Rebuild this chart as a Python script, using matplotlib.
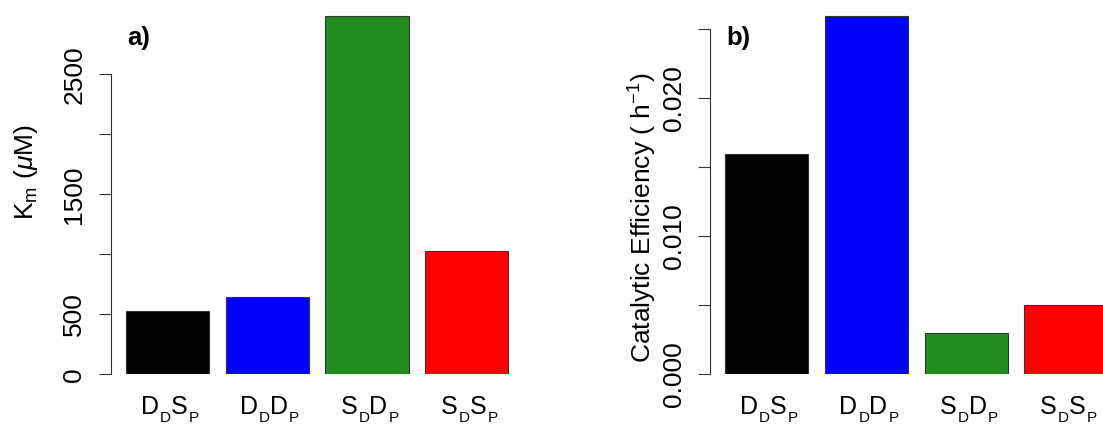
import matplotlib
matplotlib.use("Agg")
import matplotlib.pyplot as plt
import numpy as np

# two panels of R style barplots
names = [("D", "D", "S", "P"), ("D", "D", "D", "P"), ("S", "D", "D", "P"), ("S", "D", "S", "P")]
colors = ["black", "blue", "forestgreen", "red"]

km = [530, 641, 2990, 1028]
efficiency = [0.0160, 0.0260, 0.0030, 0.0050]

km_ticks = [0, 500, 1000, 1500, 2000, 2500]
km_ticklabels = ["0", "500", "", "1500", "", "2500"]
eff_ticks = [0, 0.005, 0.010, 0.015, 0.020, 0.025]
eff_ticklabels = ["0.000", "", "0.010", "", "0.020", ""]

plt.rcParams["font.family"] = ["Liberation Sans", "DejaVu Sans"]
plt.rcParams["mathtext.fontset"] = "custom"
plt.rcParams["mathtext.rm"] = "Liberation Sans"
plt.rcParams["mathtext.it"] = "Liberation Sans:italic"
plt.rcParams["mathtext.bf"] = "Liberation Sans:bold"

W, H = 1103, 425
fig = plt.figure(figsize=(W / 100, H / 100), dpi=100)
renderer = fig.canvas.get_renderer()
fs = 19
px_unit = 83.2
zero_px = 374.3


def sub_label(x_center, parts):
    # letters with small, lowered subscripts like R plotmath
    base_y = H - 414.5
    texts = []
    for i, p in enumerate(parts):
        sub = i % 2 == 1
        t = fig.text(0, base_y - (8 if sub else 0), p, transform=None,
                     fontsize=11 if sub else 18, va="baseline", ha="left")
        texts.append(t)
    widths = [t.get_window_extent(renderer).width + (0 if i % 2 else 1)
              for i, t in enumerate(texts)]
    x = x_center + 2.5 - sum(widths) / 2
    for t, w in zip(texts, widths):
        t.set_x(x)
        x += w


def panel(axis_px, values, top_val, ticks, ticklabels):
    xlim = (0.02, 5.0)
    ax = fig.add_axes([axis_px / W, (H - zero_px) / H,
                       (xlim[1] - xlim[0]) * px_unit / W, zero_px / H])
    centers = 0.7 + 1.2 * np.arange(len(values))
    ax.bar(centers, values, width=1, color=colors, edgecolor="#333333", linewidth=0.8)
    ax.set_xlim(*xlim)
    ax.set_ylim(0, top_val)
    for s in ["top", "right", "bottom"]:
        ax.spines[s].set_visible(False)
    ax.spines["left"].set_bounds(ticks[0], ticks[-1])
    ax.spines["left"].set_color("#333333")
    ax.spines["left"].set_linewidth(0.8)
    ax.set_yticks(ticks)
    ax.set_yticklabels(ticklabels, rotation=90, va="center", fontsize=fs)
    ax.tick_params(axis="y", length=8.5, width=0.8, pad=9, color="#333333")
    ax.set_xticks([])
    for c, parts in zip(centers, names):
        xc = ax.transData.transform((c, 0))[0]
        sub_label(xc, parts)
    return ax


ax1 = panel(110.7, km, zero_px / 0.12, km_ticks, km_ticklabels)
ax2 = panel(710.0, efficiency, zero_px / 13800, eff_ticks, eff_ticklabels)

fig.text(26 / W, 1 - 172 / H, r"$\mathrm{K_m}$ ($\mu$M)", rotation=90,
         ha="center", va="center", fontsize=fs)
fig.text(643 / W, 1 - 218 / H, r"Catalytic Efficiency ( h$^{\mathrm{-1}}$)", rotation=90,
         ha="center", va="center", fontsize=fs)
fig.text(127 / W, 1 - 38 / H, "a)", fontweight="bold", ha="left", va="center", fontsize=18.5)
fig.text(726 / W, 1 - 38 / H, "b)", fontweight="bold", ha="left", va="center", fontsize=18.5)

plt.savefig("out.png", dpi=100)
